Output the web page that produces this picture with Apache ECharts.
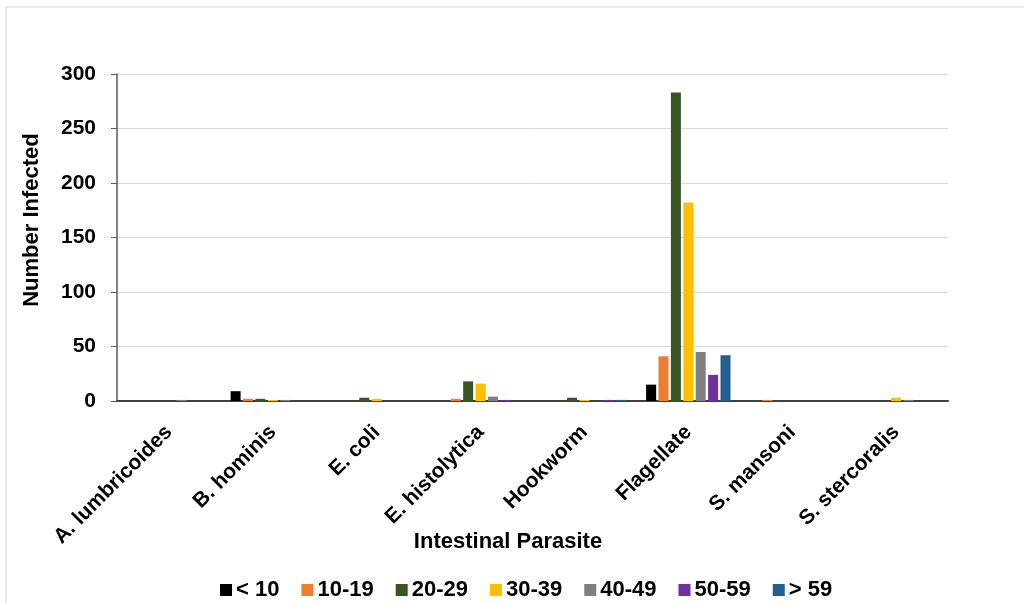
<!DOCTYPE html>
<html><head><meta charset="utf-8">
<script src="https://cdn.jsdelivr.net/npm/echarts@6/dist/echarts.min.js"></script>
<style>html,body{margin:0;padding:0;background:#fff}#c{width:1024px;height:603px}</style>
</head><body><div id="c"></div>
<script>
const categories = ['A. lumbricoides','B. hominis','E. coli','E. histolytica','Hookworm','Flagellate','S. mansoni','S. stercoralis'];
const seriesNames = ['< 10','10-19','20-29','30-39','40-49','50-59','> 59'];
const lt10   = [0, 9, 0, 0, 0, 15, 0, 0];
const a10_19 = [0, 2, 0, 2, 0, 41, 1, 0];
const a20_29 = [0, 2, 3, 18, 3, 283, 0, 0];
const a30_39 = [0, 1, 2, 16, 1, 182, 0, 3];
const a40_49 = [1, 1, 0, 4, 0, 45, 0, 1];
const a50_59 = [0, 0, 0, 1, 1, 24, 0, 0];
const gt59   = [0, 0, 0, 0, 1, 42, 0, 0];
const yTicks = [0, 50, 100, 150, 200, 250, 300];
const colors = ['#000000','#ED7D31','#375623','#FFC000','#808080','#7030A0','#255E91'];
const values = [lt10, a10_19, a20_29, a30_39, a40_49, a50_59, gt59];

const font = 'Liberation Sans, Arial, sans-serif';
const chart = echarts.init(document.getElementById('c'));
chart.setOption({
  animation: false,
  color: colors,
  grid: {left: 117, right: 76, top: 74, bottom: 202},
  graphic: [
    {type: 'rect', shape: {x: 6, y: 7, width: 1040, height: 620}, style: {fill: 'none', stroke: '#e3e3e3', lineWidth: 1.5}, silent: true},
    {type: 'text', x: 508, y: 542, style: {text: 'Intestinal Parasite', font: 'bold 22px ' + font, fill: '#000', textAlign: 'center', textVerticalAlign: 'middle'}},
    {type: 'text', x: 32, y: 220, rotation: Math.PI / 2, style: {text: 'Number Infected', font: 'bold 22px ' + font, fill: '#000', textAlign: 'center', textVerticalAlign: 'middle'}}
  ],
  legend: {
    data: seriesNames,
    left: 215, top: 574,
    itemWidth: 12, itemHeight: 12, itemGap: 22,
    icon: 'rect',
    textStyle: {fontFamily: font, fontWeight: 'bold', fontSize: 22, color: '#000', padding: [0, 0, 0, -1]}
  },
  xAxis: {
    type: 'category', data: categories,
    axisLine: {lineStyle: {color: '#404040', width: 2}},
    axisTick: {show: false},
    axisLabel: {rotate: 45, interval: 0, margin: 28, fontFamily: font, fontWeight: 'bold', fontSize: 21, color: '#000'}
  },
  yAxis: {
    type: 'value', min: yTicks[0], max: yTicks[yTicks.length - 1], interval: 50,
    axisLine: {show: true, lineStyle: {color: '#595959', width: 1.5}},
    axisTick: {show: true, length: 6, lineStyle: {color: '#595959'}},
    axisLabel: {margin: 21, fontFamily: font, fontWeight: 'bold', fontSize: 21, color: '#000'},
    splitLine: {lineStyle: {color: '#d9d9d9'}}
  },
  series: seriesNames.map((n, i) => ({
    name: n, type: 'bar', data: values[i],
    barWidth: 10, barGap: '24%',
    itemStyle: {color: colors[i]}
  }))
});
</script></body></html>
